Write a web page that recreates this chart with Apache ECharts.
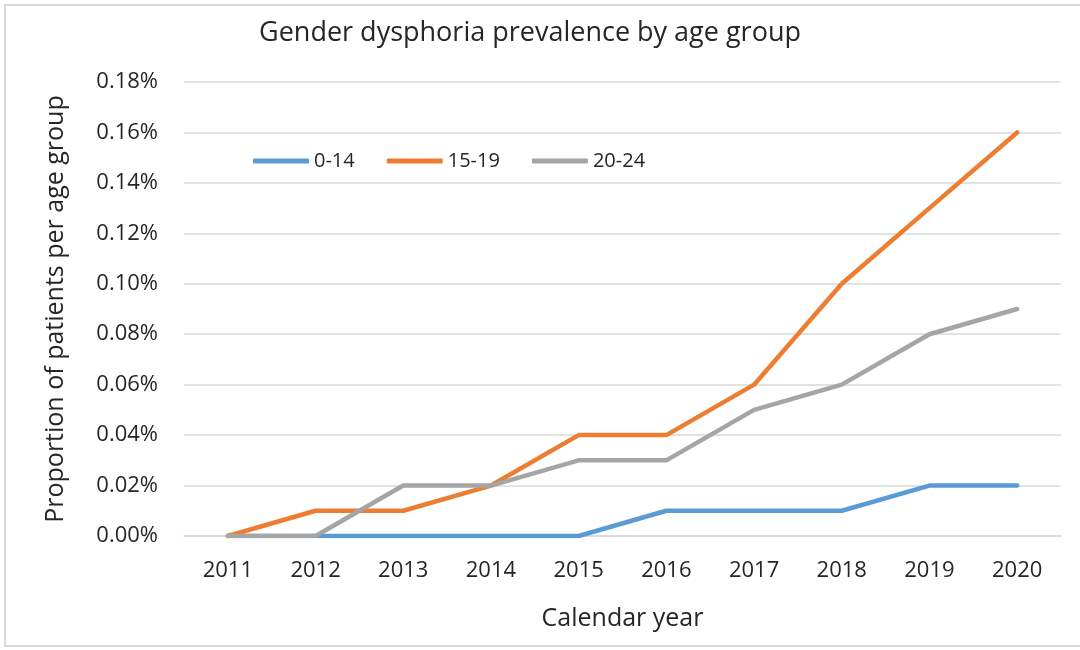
<!DOCTYPE html>
<html>
<head>
<meta charset="utf-8">
<script src="https://cdn.jsdelivr.net/npm/echarts@6/dist/echarts.min.js"></script>
<style>
    html, body {
        margin: 0;
        padding: 0;
        background: #fff;
    }
    .frame {
        position: absolute;
        left: 4px;
        top: 4px;
        width: 1080px;
        height: 643px;
        border: 2px solid #d9d9d9;
        box-sizing: border-box;
    }
    #chart {
        position: absolute;
        left: 0;
        top: 0;
        width: 1080px;
        height: 650px;
    }
</style>
</head>
<body>
<div class="frame"></div>
<div id="chart"></div>
<script>
// values in percent
const years = ['2011', '2012', '2013', '2014', '2015', '2016', '2017', '2018', '2019', '2020'];
const age0to14 = [0, 0, 0, 0, 0, 0.01, 0.01, 0.01, 0.02, 0.02];
const age15to19 = [0, 0.01, 0.01, 0.02, 0.04, 0.04, 0.06, 0.10, 0.13, 0.16];
const age20to24 = [0, 0, 0.02, 0.02, 0.03, 0.03, 0.05, 0.06, 0.08, 0.09];

const font = 'Open Sans, Lato, sans-serif';
const textColor = '#262626';

const chart = echarts.init(document.getElementById('chart'));

function lineSeries(name, data, color) {
    return {
        name: name,
        type: 'line',
        data: data,
        showSymbol: false,
        symbol: 'none',
        lineStyle: { width: 4.5, color: color, cap: 'round', join: 'round' },
        itemStyle: { color: color },
        animation: false
    };
}

chart.setOption({
    title: {
        text: 'Gender dysphoria prevalence by age group',
        left: 525,
        textAlign: 'center',
        top: 15,
        textStyle: { fontFamily: font, fontSize: 27, fontWeight: 'normal', color: textColor }
    },
    legend: {
        left: 248,
        top: 146,
        itemWidth: 56,
        itemHeight: 5,
        itemGap: 32,
        textStyle: { fontFamily: font, fontSize: 20, color: textColor },
        data: [
            { name: '0-14', icon: 'roundRect' },
            { name: '15-19', icon: 'roundRect' },
            { name: '20-24', icon: 'roundRect' }
        ]
    },
    grid: {
        left: 184,
        right: 19,
        top: 82,
        bottom: 114
    },
    xAxis: {
        type: 'category',
        data: years,
        boundaryGap: true,
        name: 'Calendar year',
        nameLocation: 'middle',
        nameGap: 70,
        nameTextStyle: { fontFamily: font, fontSize: 25, color: textColor },
        axisLine: { lineStyle: { color: '#d9d9d9', width: 1.5 } },
        axisTick: { show: false },
        axisLabel: { fontFamily: font, fontSize: 22, color: textColor, margin: 24 }
    },
    yAxis: {
        type: 'value',
        min: 0,
        max: 0.18,
        interval: 0.02,
        name: 'Proportion of patients per age group',
        nameLocation: 'middle',
        nameGap: 116,
        nameTextStyle: { fontFamily: font, fontSize: 25, color: textColor },
        axisLine: { show: false },
        axisTick: { show: false },
        splitLine: { lineStyle: { color: '#d9d9d9', width: 1.5 } },
        axisLabel: {
            fontFamily: font,
            fontSize: 22,
            color: textColor,
            margin: 26,
            formatter: function (v) { return v.toFixed(2) + '%'; }
        }
    },
    series: [
        lineSeries('0-14', age0to14, '#5b9bd5'),
        lineSeries('15-19', age15to19, '#ed7d31'),
        lineSeries('20-24', age20to24, '#a5a5a5')
    ]
});
</script>
</body>
</html>
